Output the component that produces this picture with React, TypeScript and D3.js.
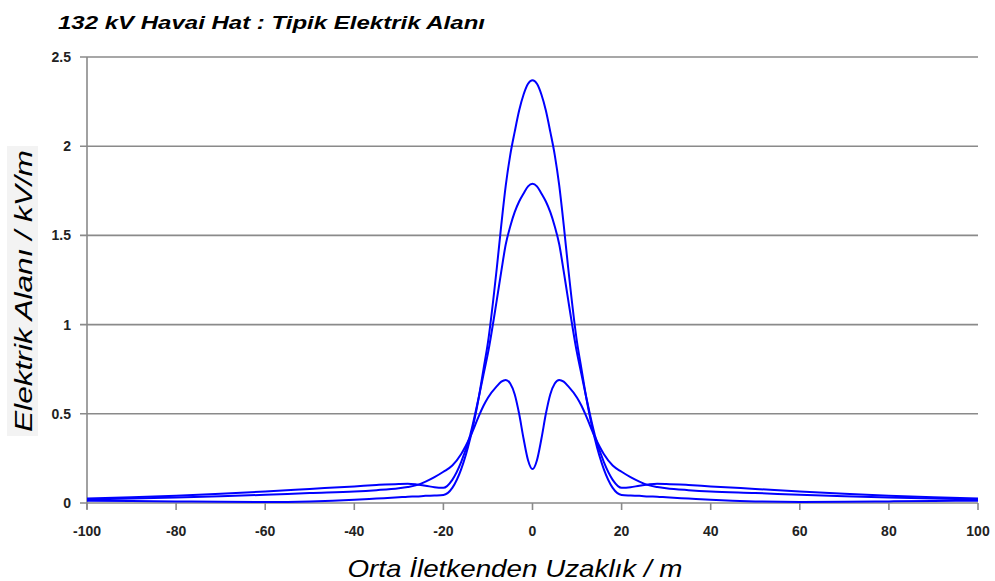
import React from "react";
import * as d3 from "d3";

const xs = [0, 1, 2, 3, 4, 5, 6, 7, 8, 10, 11, 12, 14, 16, 18, 20, 22, 24, 26, 28, 30, 35, 40, 50, 60, 70, 80, 90, 100];
// curve A (highest peak)
const seriesA = [2.37, 2.35, 2.29, 2.2, 2.08, 1.95, 1.78, 1.56, 1.32, 0.9, 0.75, 0.6, 0.36, 0.19, 0.085, 0.045, 0.042, 0.04, 0.037, 0.035, 0.032, 0.025, 0.018, 0.009, 0.006, 0.007, 0.009, 0.011, 0.013];
// curve B (middle peak)
const seriesB = [1.79, 1.775, 1.735, 1.69, 1.63, 1.55, 1.45, 1.3, 1.14, 0.84, 0.72, 0.6, 0.38, 0.23, 0.13, 0.085, 0.088, 0.097, 0.104, 0.108, 0.107, 0.101, 0.093, 0.079, 0.065, 0.052, 0.041, 0.032, 0.025];
// curve C (double hump)
const seriesC = [0.19, 0.24, 0.36, 0.5, 0.61, 0.67, 0.69, 0.68, 0.655, 0.59, 0.545, 0.49, 0.37, 0.275, 0.21, 0.175, 0.145, 0.12, 0.1, 0.09, 0.083, 0.072, 0.064, 0.056, 0.046, 0.038, 0.031, 0.025, 0.02];

const xTicks = [-100, -80, -60, -40, -20, 0, 20, 40, 60, 80, 100];
const yTicks = [0, 0.5, 1, 1.5, 2, 2.5];

const title = "132 kV Havai Hat : Tipik Elektrik Alanı";
const xTitle = "Orta İletkenden Uzaklık / m";
const yTitle = "Elektrik Alanı / kV/m";

const W = 995;
const H = 581;
const left = 87;
const right = 978;
const top = 57;
const bottom = 503;

function mirror(vals: number[]): [number, number][] {
  const pts: [number, number][] = [];
  for (let i = xs.length - 1; i >= 1; i--) pts.push([-xs[i], vals[i]]);
  for (let i = 0; i < xs.length; i++) pts.push([xs[i], vals[i]]);
  return pts;
}

export default function App() {
  const x = d3.scaleLinear().domain([-100, 100]).range([left, right]);
  const y = d3.scaleLinear().domain([0, 2.5]).range([bottom, top]);
  const line = d3
    .line<[number, number]>()
    .x((d) => x(d[0]))
    .y((d) => y(d[1]))
    .curve(d3.curveMonotoneX);
  const series = [seriesA, seriesB, seriesC];
  const gridColor = "#8a8a8a";
  return (
    <svg
      width={W}
      height={H}
      style={{ position: "absolute", left: 0, top: 0, background: "#fff" }}
      fontFamily="Liberation Sans, Arial, sans-serif"
    >
      <rect x={0} y={0} width={W} height={H} fill="#fff" />
      <text
        x={58}
        y={29}
        fontSize={18}
        fontWeight="bold"
        fontStyle="italic"
        fill="#000"
        textLength={427}
        lengthAdjust="spacingAndGlyphs"
      >
        {title}
      </text>
      {yTicks.map((t) => (
        <g key={"y" + t}>
          <line x1={80} x2={t === 0 ? right : right} y1={y(t)} y2={y(t)} stroke={gridColor} strokeWidth={1.6} />
          <text x={71} y={y(t) + 5} fontSize={14} textAnchor="end" fill="#222" fontWeight="bold">
            {t}
          </text>
        </g>
      ))}
      <line x1={left} x2={left} y1={top} y2={bottom + 6} stroke={gridColor} strokeWidth={1.6} />
      {xTicks.map((t) => (
        <g key={"x" + t}>
          <line x1={x(t)} x2={x(t)} y1={bottom} y2={bottom + 7} stroke={gridColor} strokeWidth={1.6} />
          <text x={x(t)} y={bottom + 33} fontSize={14} textAnchor="middle" fill="#222" fontWeight="bold">
            {t}
          </text>
        </g>
      ))}
      {series.map((s, i) => (
        <path key={i} d={line(mirror(s)) || ""} fill="none" stroke="#0000ff" strokeWidth={2} />
      ))}
      <rect x={7} y={146} width={31} height={290} fill="#f3f3f3" />
      <text
        transform={`translate(32,${291}) rotate(-90)`}
        fontSize={24}
        fontStyle="italic"
        textAnchor="middle"
        fill="#000"
        textLength={282}
        lengthAdjust="spacingAndGlyphs"
      >
        {yTitle}
      </text>
      <text
        x={515}
        y={577}
        fontSize={24}
        fontStyle="italic"
        textAnchor="middle"
        fill="#000"
        textLength={335}
        lengthAdjust="spacingAndGlyphs"
      >
        {xTitle}
      </text>
    </svg>
  );
}
